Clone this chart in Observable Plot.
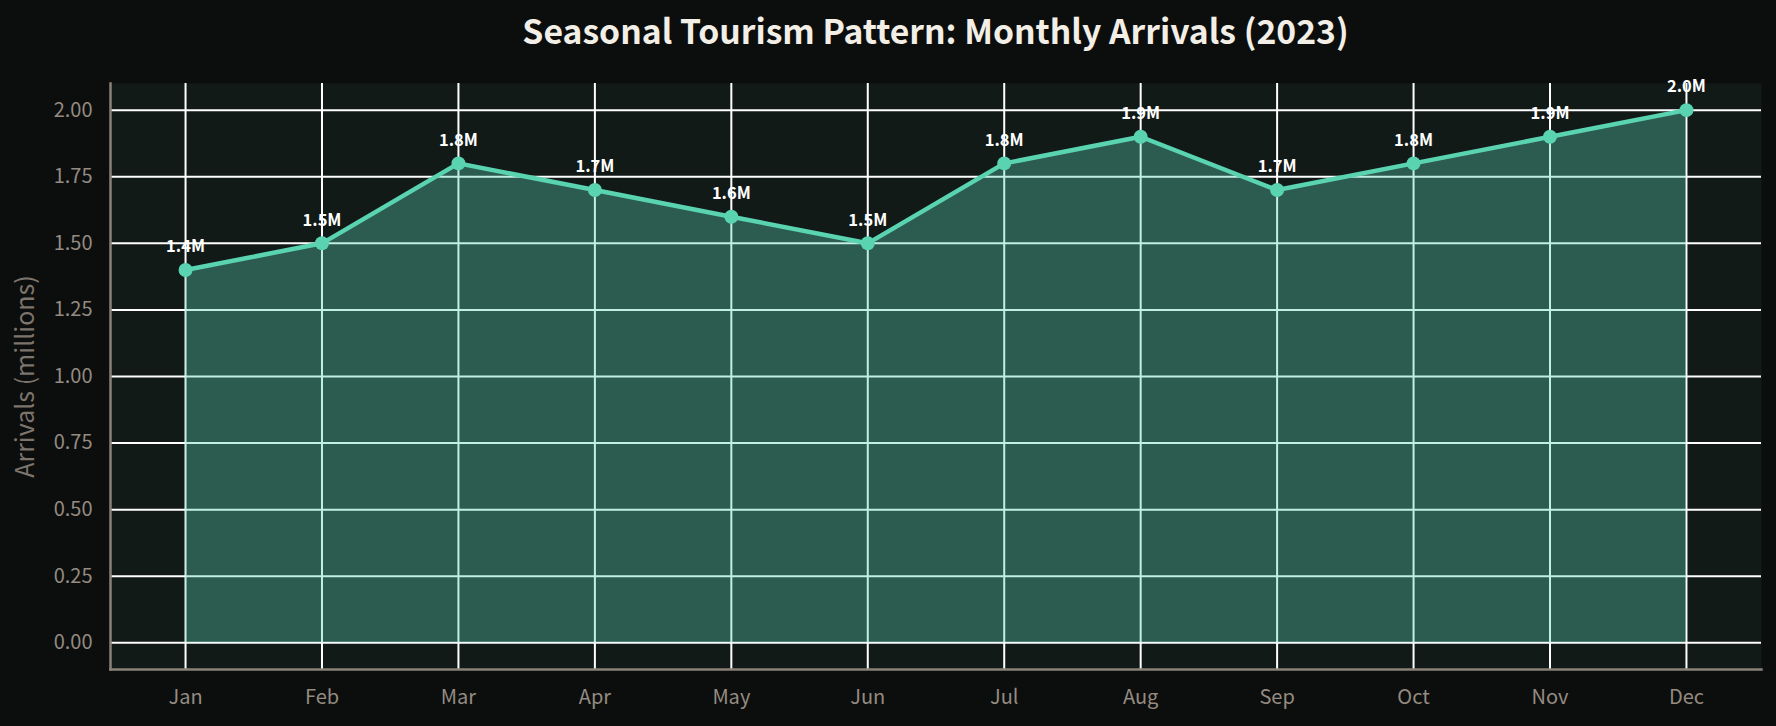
<!DOCTYPE html>
<html>
<head>
<meta charset="utf-8">
<script src="https://cdn.jsdelivr.net/npm/d3@7"></script>
<script src="https://cdn.jsdelivr.net/npm/@observablehq/plot@0.6"></script>
<style>
  html, body { margin: 0; padding: 0; background: #0b0e0d; }
  body { width: 1776px; height: 726px; overflow: hidden; font-family: "Noto Sans CJK SC", "Source Sans Pro", sans-serif; }
  #title { height: 60px; box-sizing: border-box; padding: 10px 15px 0 110px; text-align: center;
           color: #f3efe6; font-size: 33.7px; font-weight: 700; line-height: 40px; }
</style>
</head>
<body>
<div id="title">Seasonal Tourism Pattern: Monthly Arrivals (2023)</div>
<div id="chart"></div>
<script>
const months = ["Jan","Feb","Mar","Apr","May","Jun","Jul","Aug","Sep","Oct","Nov","Dec"];
const arrivals = [1.4, 1.5, 1.8, 1.7, 1.6, 1.5, 1.8, 1.9, 1.7, 1.8, 1.9, 2.0];
const yTicks = [0, 0.25, 0.5, 0.75, 1.0, 1.25, 1.5, 1.75, 2.0];
const yLabel = "Arrivals (millions)";

const data = months.map((m, i) => ({month: m, value: arrivals[i]}));

const lineColor = "#5ad3b1";

const chart = Plot.plot({
  width: 1776,
  height: 666,
  marginTop: 23,
  marginBottom: 57,
  marginLeft: 110,
  marginRight: 15,
  style: {background: "transparent", fontFamily: "'Noto Sans CJK SC', sans-serif", color: "#958b81"},
  x: {type: "point", domain: months, padding: 0.55, round: false, label: null},
  y: {domain: [-0.1, 2.1], label: null},
  marks: [
    Plot.frame({fill: "#121a18", stroke: null}),
    Plot.gridY(yTicks, {stroke: "#ffffff", strokeOpacity: 1, strokeWidth: 2}),
    Plot.gridX(months, {stroke: "#ffffff", strokeOpacity: 1, strokeWidth: 2}),
    Plot.areaY(data, {x: "month", y: "value", fill: lineColor, fillOpacity: 0.36, curve: "linear"}),
    Plot.lineY(data, {x: "month", y: "value", stroke: lineColor, strokeWidth: 4.5}),
    Plot.dot(data, {x: "month", y: "value", fill: lineColor, r: 7}),
    Plot.text(data, {x: "month", y: "value", text: d => d.value.toFixed(1) + "M", dy: -23,
      fill: "#ffffff", fontSize: 16.5, fontWeight: 700}),
    Plot.axisY(yTicks, {tickSize: 0, tickPadding: 18, tickFormat: d3.format(".2f"), fontSize: 20, fill: "#958b81",
      label: null}),
    Plot.axisX(months, {tickSize: 0, tickPadding: 20, fontSize: 20, fill: "#958b81", label: null}),
    Plot.text([yLabel], {frameAnchor: "left", textAnchor: "middle", rotate: -90, dx: -85, fontSize: 25, fill: "#7d746c", text: d => d}),
    Plot.frame({anchor: "left", stroke: "#8a8279", strokeWidth: 2.5}),
    Plot.frame({anchor: "bottom", stroke: "#8a8279", strokeWidth: 2.5})
  ]
});
document.getElementById("chart").appendChild(chart);
</script>
</body>
</html>
